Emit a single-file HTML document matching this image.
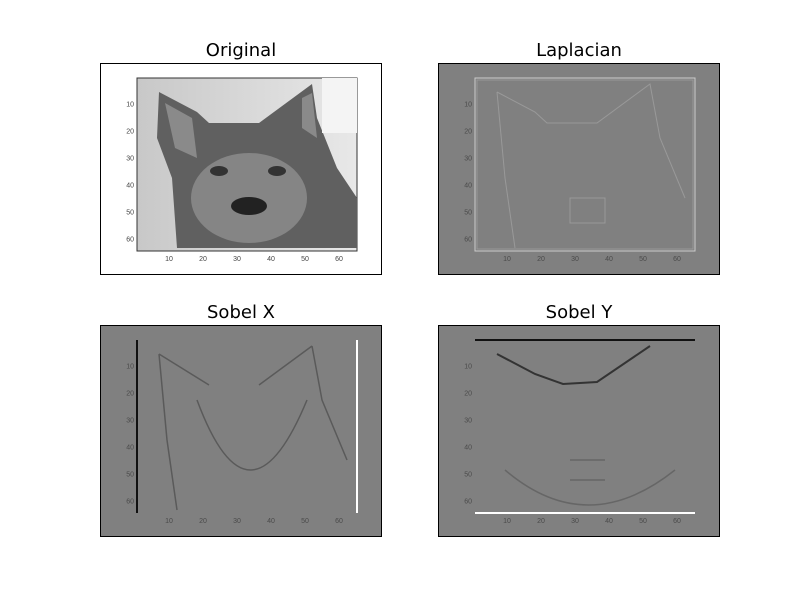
<!DOCTYPE html>
<html><head><meta charset="utf-8"><style>
body{margin:0;background:#fff;}
svg text{font-family:"Liberation Sans","DejaVu Sans",sans-serif;}
svg text.ttl{font-family:"DejaVu Sans","Liberation Sans",sans-serif;}
</style></head><body>
<svg id="fig" width="800" height="600" xmlns="http://www.w3.org/2000/svg">
<rect width="800" height="600" fill="#fff"/>
</svg>
<script>
const titles=["Original","Laplacian","Sobel X","Sobel Y"];
const tickValues=[10,20,30,40,50,60];
const panelOrigins=[[100,63],[438,63],[100,325],[438,325]];
const NS="http://www.w3.org/2000/svg";
const svg=document.getElementById('fig');
function mk(t,a,p){const e=document.createElementNS(NS,t);for(const k in a)e.setAttribute(k,a[k]);(p||svg).appendChild(e);return e;}
const W=282,H=212;
titles.forEach((t,i)=>{
  const [ox,oy]=panelOrigins[i];
  const g=mk('g',{});
  
  
  const gray=i>0;
  mk('rect',{x:ox,y:oy,width:W,height:H,fill:gray?'#808080':'#fff'},g);
  const ix=ox+37, iy=oy+15, iw=220, ih=173;
  const xs=v=>ox+35+3.4*v, ys=v=>oy+14+2.7*v;
  if(i===0){
    const d=mk('defs',{},g);
    const lg=mk('linearGradient',{id:'bg0',x1:0,y1:0,x2:1,y2:0},d);
    mk('stop',{offset:0,'stop-color':'#c8c8c8'},lg);mk('stop',{offset:0.5,'stop-color':'#d8d8d8'},lg);mk('stop',{offset:1,'stop-color':'#e8e8e8'},lg);
    mk('rect',{x:ix,y:iy,width:iw,height:ih,fill:'url(#bg0)',stroke:'#333','stroke-width':1},g);
    mk('path',{d:`M${ix+22} ${iy+14} L${ix+60} ${iy+34} L${ix+72} ${iy+45} L${ix+122} ${iy+45} L${ix+175} ${iy+6} L${ix+180} ${iy+40} L${ix+200} ${iy+90} L${ix+220} ${iy+120} L${ix+220} ${iy+170} L${ix+40} ${iy+170} L${ix+35} ${iy+100} L${ix+20} ${iy+60} Z`,fill:'#606060'},g);
    mk('path',{d:`M${ix+28} ${iy+25} L${ix+55} ${iy+40} L${ix+60} ${iy+80} L${ix+38} ${iy+70} Z M${ix+165} ${iy+20} L${ix+175} ${iy+15} L${ix+180} ${iy+60} L${ix+165} ${iy+50} Z`,fill:'#8a8a8a'},g);
    mk('ellipse',{cx:ix+112,cy:iy+120,rx:58,ry:45,fill:'#858585'},g);
    mk('ellipse',{cx:ix+112,cy:iy+128,rx:18,ry:9,fill:'#222'},g);
    mk('ellipse',{cx:ix+82,cy:iy+93,rx:9,ry:5,fill:'#333'},g);
    mk('ellipse',{cx:ix+140,cy:iy+93,rx:9,ry:5,fill:'#333'},g);
    mk('rect',{x:ix+185,y:iy,width:35,height:55,fill:'#f4f4f4'},g);
  } else if(i===1){
    mk('rect',{x:ix,y:iy,width:iw,height:ih,fill:'none',stroke:'#ccc','stroke-width':1},g);
    mk('rect',{x:ix+2,y:iy+2,width:iw-4,height:ih-4,fill:'none',stroke:'#999','stroke-width':1},g);
    mk('path',{d:`M${ix+22} ${iy+14} L${ix+60} ${iy+34} L${ix+72} ${iy+45} L${ix+122} ${iy+45} L${ix+175} ${iy+6} L${ix+185} ${iy+60} L${ix+210} ${iy+120} M${ix+22} ${iy+14} L${ix+30} ${iy+100} L${ix+40} ${iy+170} M${ix+95} ${iy+120} h35 v25 h-35 Z`,fill:'none',stroke:'#999','stroke-width':1},g);
  } else if(i===2){
    mk('line',{x1:ix,y1:iy,x2:ix,y2:iy+ih,stroke:'#111','stroke-width':2},g);
    mk('line',{x1:ix+iw,y1:iy,x2:ix+iw,y2:iy+ih,stroke:'#fff','stroke-width':2},g);
    mk('path',{d:`M${ix+22} ${iy+14} L${ix+30} ${iy+100} L${ix+40} ${iy+170} M${ix+175} ${iy+6} L${ix+185} ${iy+60} L${ix+210} ${iy+120} M${ix+60} ${iy+60} Q${ix+112} ${iy+200} ${ix+170} ${iy+60} M${ix+22} ${iy+14} L${ix+72} ${iy+45} M${ix+122} ${iy+45} L${ix+175} ${iy+6}`,fill:'none',stroke:'#5a5a5a','stroke-width':1.5},g);
  } else {
    mk('line',{x1:ix,y1:iy,x2:ix+iw,y2:iy,stroke:'#111','stroke-width':2},g);
    mk('line',{x1:ix,y1:iy+ih,x2:ix+iw,y2:iy+ih,stroke:'#fff','stroke-width':2},g);
    mk('path',{d:`M${ix+22} ${iy+14} L${ix+60} ${iy+34} L${ix+88} ${iy+44} L${ix+122} ${iy+42} L${ix+175} ${iy+6}`,fill:'none',stroke:'#333','stroke-width':2},g);
    mk('path',{d:`M${ix+30} ${iy+130} Q${ix+112} ${iy+200} ${ix+200} ${iy+130} M${ix+95} ${iy+120} h35 M${ix+95} ${iy+140} h35`,fill:'none',stroke:'#666','stroke-width':1.5},g);
  }
  const tc=gray?'#4a4a4a':'#444';
  tickValues.forEach(v=>{
    const tx=mk('text',{x:xs(v),y:oy+198,'font-size':7,fill:tc,'text-anchor':'middle'},g);
    tx.textContent=v;
    
    
    const ty=mk('text',{x:ox+34,y:ys(v)+2.5,'font-size':7,fill:tc,'text-anchor':'end'},g);
    ty.textContent=v;
    
    
  });
  mk('rect',{x:ox+0.5,y:oy+0.5,width:W-1,height:H-1,fill:'none',stroke:'#000','stroke-width':1},g);
  const tt=mk('text',{x:ox+W/2,y:oy-7,'font-size':18,fill:'#000','text-anchor':'middle',class:'ttl'},g);
  tt.textContent=t;
  
  
});
</script>
</body></html>
